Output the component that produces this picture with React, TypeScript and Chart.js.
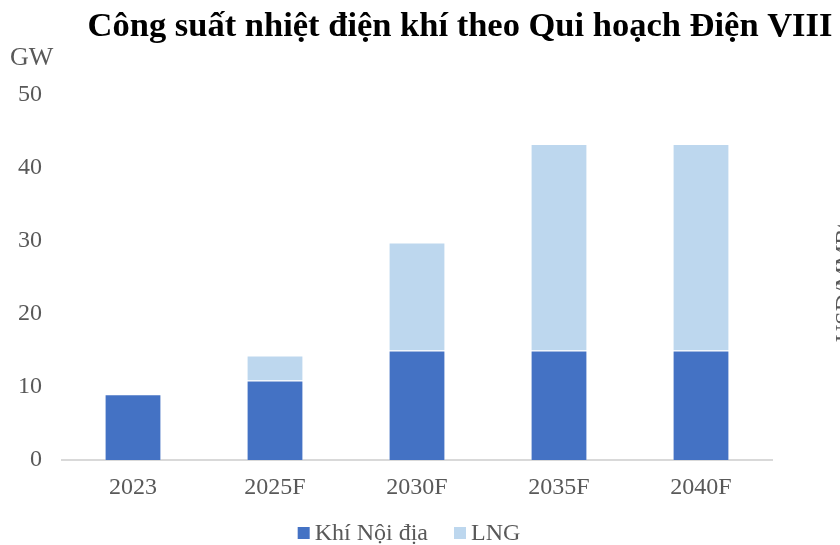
import React, { useEffect, useRef } from 'react';
import { Chart, registerables } from 'chart.js';

Chart.register(...registerables);

const categories = ['2023', '2025F', '2030F', '2035F', '2040F'];
const domesticValues = [9, 10.9, 15, 15, 15];
const lngValues: (number | null)[] = [null, 3.4, 14.8, 28.3, 28.3];
const yTicks = [0, 10, 20, 30, 40, 50];
const seriesNames = ['Khí Nội địa', 'LNG'];
const seriesColors = ['#4472C4', '#BDD7EE'];
const titleText = 'Công suất nhiệt điện khí theo Qui hoạch Điện VIII';
const unitLabel = 'GW';
const rightAxisLabel = 'USD/MMBtu';

const FONT = '"Liberation Serif", "Times New Roman", serif';
const GREY = '#595959';

const overlayPlugin = {
  id: 'overlay',
  afterDraw(chart: any) {
    const ctx = chart.ctx as CanvasRenderingContext2D;
    ctx.save();
    // title
    ctx.font = `bold 34.5px ${FONT}`;
    ctx.fillStyle = '#000000';
    ctx.textAlign = 'center';
    ctx.textBaseline = 'alphabetic';
    ctx.fillText(titleText, 460, 36);
    // unit
    ctx.font = `26px ${FONT}`;
    ctx.fillStyle = GREY;
    ctx.textAlign = 'left';
    ctx.fillText(unitLabel, 10, 65);
    // legend
    ctx.font = `24px ${FONT}`;
    const items = chart.data.datasets.map((d: any) => ({
      text: d.label as string,
      color: d.backgroundColor as string,
      w: ctx.measureText(d.label).width,
    }));
    const total = items.reduce((a: number, it: any, i: number) => a + 17 + it.w + (i ? 26 : 0), 0);
    let x = 409 - total / 2;
    items.forEach((it: any) => {
      ctx.fillStyle = it.color;
      ctx.fillRect(x, 527, 12, 12);
      ctx.fillStyle = GREY;
      ctx.fillText(it.text, x + 17, 540);
      x += 17 + it.w + 26;
    });
    // clipped right-side label
    ctx.translate(851, 342);
    ctx.rotate(-Math.PI / 2);
    ctx.textAlign = 'left';
    ctx.fillText(rightAxisLabel, 0, 0);
    ctx.restore();
  },
};

export default function App() {
  const ref = useRef<HTMLCanvasElement | null>(null);

  useEffect(() => {
    if (!ref.current) return;
    const chart = new Chart(ref.current, {
      type: 'bar',
      data: {
        labels: categories,
        datasets: [
          {
            label: seriesNames[0],
            data: domesticValues,
            backgroundColor: seriesColors[0],
            borderColor: 'rgba(255,255,255,0.45)',
            borderWidth: 1,
            categoryPercentage: 1,
            barPercentage: 0.4,
          },
          {
            label: seriesNames[1],
            data: lngValues,
            backgroundColor: seriesColors[1],
            borderColor: 'rgba(255,255,255,0.45)',
            borderWidth: 1,
            categoryPercentage: 1,
            barPercentage: 0.4,
          },
        ],
      },
      options: {
        responsive: false,
        animation: false,
        devicePixelRatio: 1,
        layout: { padding: { top: 95, right: 68, left: 0, bottom: 0 } },
        plugins: {
          legend: { display: false },
          title: { display: false },
          tooltip: { enabled: false },
        },
        scales: {
          x: {
            stacked: true,
            grid: { display: false, drawTicks: false },
            border: { display: true, color: '#D9D9D9', width: 2 },
            ticks: {
              color: GREY,
              font: { family: FONT, size: 24 },
              padding: 13,
              maxRotation: 0,
            },
            afterFit: (s: any) => {
              s.height = 85;
            },
          },
          y: {
            stacked: true,
            min: 0,
            max: 50,
            grid: { display: false, drawTicks: false },
            border: { display: false },
            ticks: {
              color: GREY,
              font: { family: FONT, size: 24 },
              padding: 20,
            },
            afterBuildTicks: (s: any) => {
              s.ticks = yTicks.map((v) => ({ value: v }));
            },
            afterFit: (s: any) => {
              s.width = 62;
            },
          },
        },
      },
      plugins: [overlayPlugin],
    });
    return () => chart.destroy();
  }, []);

  return (
    <div style={{ position: 'fixed', left: 0, top: 0, width: 840, height: 545, background: '#ffffff' }}>
      <canvas ref={ref} width={840} height={545} style={{ display: 'block', width: 840, height: 545 }} />
    </div>
  );
}
